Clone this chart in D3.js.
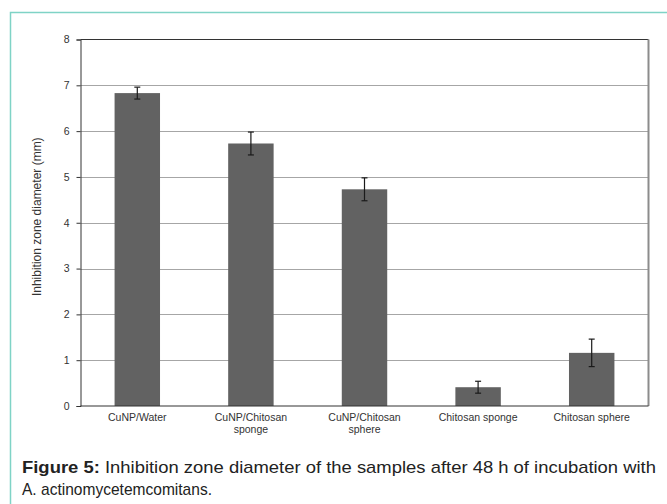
<!DOCTYPE html>
<html>
<head>
<meta charset="utf-8">
<script src="https://cdn.jsdelivr.net/npm/d3@7"></script>
<style>
	body { margin: 0; background: #fff; }
	svg { display: block; font-family: "Liberation Sans", Arial, sans-serif; }
	.caption { font-family: "Liberation Sans Narrow", "Liberation Sans", Arial, sans-serif; }
</style>
</head>
<body>
<div id="chart"></div>
<script>
//data
var categories = [["CuNP/Water"], ["CuNP/Chitosan", "sponge"], ["CuNP/Chitosan", "sphere"], ["Chitosan sponge"], ["Chitosan sphere"]];
var means = [6.83, 5.73, 4.73, 0.41, 1.16];
var errors = [0.13, 0.25, 0.25, 0.13, 0.30];
var yTicks = [0, 1, 2, 3, 4, 5, 6, 7, 8];

var width = 667, height = 504;
var margin = {left: 80.5, right: 18.5, top: 39.5, bottom: 98};

var svg = d3.select("#chart").append("svg")
	.attr("width", width)
	.attr("height", height);

//teal frame of the figure box
svg.append("path")
	.attr("d", "M10.5," + height + "V12.5H" + width)
	.attr("fill", "none")
	.attr("stroke", "#7fd3c6")
	.attr("stroke-width", 1.5);

var x = d3.scaleBand()
	.domain(d3.range(categories.length))
	.range([margin.left, width - margin.right])
	.paddingInner(0.6)
	.paddingOuter(0.3);

var y = d3.scaleLinear()
	.domain([0, 8])
	.range([height - margin.bottom, margin.top]);

//grid lines
svg.append("g")
	.selectAll("line")
	.data(yTicks.filter(function(d){ return d > 0 && d < 8; }))
	.enter()
		.append("line")
			.attr("x1", margin.left)
			.attr("x2", width - margin.right)
			.attr("y1", function(d){ return Math.round(y(d)) + 0.5; })
			.attr("y2", function(d){ return Math.round(y(d)) + 0.5; })
			.attr("stroke", "#a6a6a6");

//top and right border of the plot area
svg.append("line")
	.attr("x1", margin.left).attr("x2", width - margin.right)
	.attr("y1", margin.top).attr("y2", margin.top)
	.attr("stroke", "#333");
svg.append("line")
	.attr("x1", width - margin.right).attr("x2", width - margin.right)
	.attr("y1", margin.top).attr("y2", y(0))
	.attr("stroke", "#8c8c8c")
	.attr("stroke-width", 2);

//bars
svg.append("g")
	.selectAll("rect")
	.data(means)
	.enter()
		.append("rect")
			.attr("x", function(d, i){ return x(i); })
			.attr("width", x.bandwidth())
			.attr("y", function(d){ return y(d); })
			.attr("height", function(d){ return y(0) - y(d); })
			.attr("fill", "#626262");

//error bars
var err = svg.append("g")
	.attr("stroke", "#1a1a1a")
	.attr("stroke-width", 1.2);

means.forEach(function(m, i)
{
	var cx = x(i) + x.bandwidth() / 2;
	err.append("line")
		.attr("x1", cx).attr("x2", cx)
		.attr("y1", y(m + errors[i])).attr("y2", y(m - errors[i]));
	[m + errors[i], m - errors[i]].forEach(function(v)
	{
		err.append("line")
			.attr("x1", cx - 3).attr("x2", cx + 3)
			.attr("y1", y(v)).attr("y2", y(v));
	});
});

//y axis
var yAxis = svg.append("g")
	.attr("transform", "translate(" + margin.left + ",0)")
	.call(d3.axisLeft(y).tickValues(yTicks).tickSize(4).tickPadding(7));
yAxis.select(".domain").attr("stroke", "#333");
yAxis.selectAll(".tick line").attr("stroke", "#333");
yAxis.selectAll("text")
	.attr("font-size", 10.5)
	.attr("fill", "#333")
	.attr("font-family", "Liberation Sans, Arial, sans-serif");

//x axis baseline
svg.append("line")
	.attr("x1", margin.left).attr("x2", width - margin.right)
	.attr("y1", y(0)).attr("y2", y(0))
	.attr("stroke", "#333")
	.attr("stroke-width", 1.2);

//category labels
var labels = svg.append("g")
	.selectAll("text")
	.data(categories)
	.enter()
		.append("text")
			.attr("text-anchor", "middle")
			.attr("font-size", 10.5)
			.attr("fill", "#333")
			.attr("transform", function(d, i){ return "translate(" + (x(i) + x.bandwidth() / 2) + "," + (y(0) + 15) + ")"; });

labels.selectAll("tspan")
	.data(function(d){ return d; })
	.enter()
		.append("tspan")
			.attr("x", 0)
			.attr("dy", function(d, i){ return i === 0 ? 0 : 12; })
			.text(function(d){ return d; });

//y axis title
svg.append("text")
	.attr("transform", "translate(41," + ((margin.top + y(0)) / 2 - 6) + ") rotate(-90)")
	.attr("text-anchor", "middle")
	.attr("font-size", 12)
	.attr("fill", "#333")
	.text("Inhibition zone diameter (mm)");

//caption
var cap1 = svg.append("text")
	.attr("class", "caption")
	.attr("x", 22)
	.attr("y", 473)
	.attr("font-size", 17)
	.attr("fill", "#222")
	.attr("textLength", 634)
	.attr("lengthAdjust", "spacingAndGlyphs");
cap1.append("tspan").attr("font-weight", "bold").text("Figure 5:");
cap1.append("tspan").text(" Inhibition zone diameter of the samples after 48 h of incubation with");

svg.append("text")
	.attr("class", "caption")
	.attr("x", 22)
	.attr("y", 495)
	.attr("font-size", 17)
	.attr("fill", "#222")
	.attr("textLength", 190)
	.attr("lengthAdjust", "spacingAndGlyphs")
	.text("A. actinomycetemcomitans.");
</script>
</body>
</html>
